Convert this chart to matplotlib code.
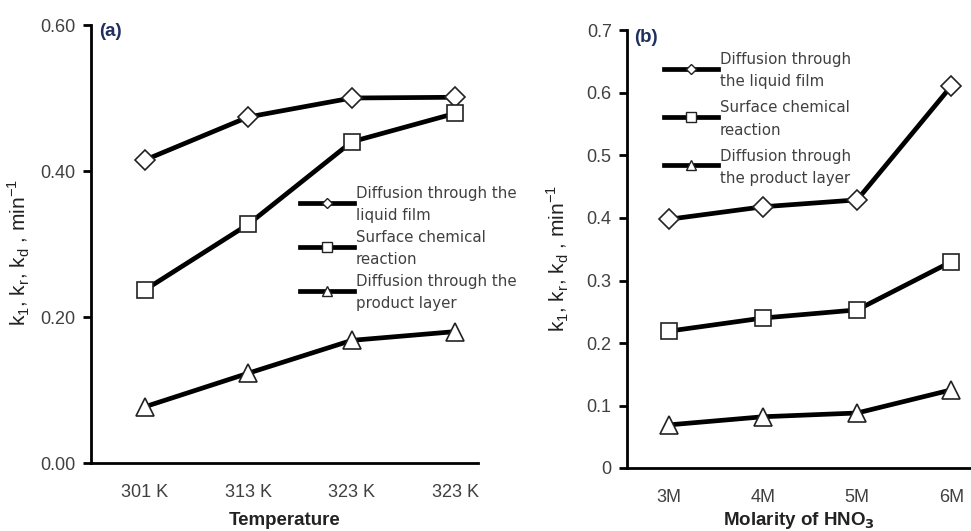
import numpy as np
import matplotlib
matplotlib.use('Agg')
import matplotlib.pyplot as plt
from matplotlib.lines import Line2D
from matplotlib.legend_handler import HandlerLine2D

plt.rcParams['font.family'] = ['Liberation Sans', 'DejaVu Sans']
plt.rcParams['mathtext.fontset'] = 'custom'
plt.rcParams['mathtext.rm'] = 'Liberation Sans'

# panel (a) data
temps = ['301 K', '313 K', '323 K', '323 K']
film_a = [0.415, 0.474, 0.500, 0.501]
chem_a = [0.237, 0.327, 0.440, 0.479]
prod_a = [0.077, 0.123, 0.168, 0.180]

# panel (b) data
molar = ['3M', '4M', '5M', '6M']
film_b = [0.398, 0.418, 0.429, 0.611]
chem_b = [0.219, 0.240, 0.253, 0.330]
prod_b = [0.069, 0.082, 0.088, 0.125]

labels_a = ['Diffusion through the\nliquid film', 'Surface chemical\nreaction',
            'Diffusion through the\nproduct layer']
labels_b = ['Diffusion through\nthe liquid film', 'Surface chemical\nreaction',
            'Diffusion through\nthe product layer']

TXT = '#404040'


class TopHandler(HandlerLine2D):
    # put the legend line next to the first text row instead of the middle
    def create_artists(self, legend, orig_handle, xdescent, ydescent,
                       width, height, fontsize, trans):
        arts = super().create_artists(legend, orig_handle, xdescent, ydescent,
                                      width, height, fontsize, trans)
        for a in arts:
            a.set_ydata(np.asarray(a.get_ydata()) + height / 4)
        return arts


def draw(ax, cats, series, labels, xlim, ylim, yticks, yfmt, xlabel, xpad, tag,
         leg_xy, leg_space):
    x = np.arange(len(cats))
    styles = [('D', 10), ('s', 11), ('^', 12.5)]
    for vals, (m, ms) in zip(series, styles):
        ax.plot(x, vals, color='black', lw=3.4, marker=m, ms=ms,
                mfc='white', mec='#222222', mew=1.2, solid_joinstyle='round')
    ax.set_xlim(*xlim)
    ax.set_ylim(*ylim)
    ax.set_xticks(x)
    ax.set_xticklabels(cats)
    ax.set_yticks(yticks)
    ax.set_yticklabels([yfmt(v) for v in yticks])
    for s in ['top', 'right']:
        ax.spines[s].set_visible(False)
    for s in ['left', 'bottom']:
        ax.spines[s].set_linewidth(2)
    ax.tick_params(axis='x', length=0, pad=15, labelsize=13, labelcolor=TXT)
    ax.tick_params(axis='y', length=6, width=2, direction='out', pad=5,
                   labelsize=13, labelcolor=TXT)
    ax.set_xlabel(xlabel, fontsize=13.5, fontweight='bold', color='#222222', labelpad=xpad)
    ax.set_ylabel(r'k$_\mathrm{1}$, k$_\mathrm{r}$, k$_\mathrm{d}$ , min$^\mathrm{-1}$',
                  fontsize=15, color='#222222')
    ax.text(0.022, 0.985, tag, transform=ax.transAxes, fontsize=13.5,
            fontweight='bold', color='#1f2f5f', va='center', ha='left')

    handles = [Line2D([], [], color='black', lw=3.4, marker=m, ms=ms,
                      mfc='white', mec='#222222', mew=1)
               for m, ms in [('D', 5.5), ('s', 6.5), ('^', 6.5)]]
    leg = ax.legend(handles, labels, loc='upper left', bbox_to_anchor=leg_xy,
                    bbox_transform=ax.figure.transFigure, frameon=False,
                    prop={'family': 'DejaVu Sans', 'size': 10.8}, labelcolor=TXT,
                    handlelength=3.6, handletextpad=0.1, borderpad=0,
                    borderaxespad=0, labelspacing=leg_space,
                    handler_map={Line2D: TopHandler()})
    for t in leg.get_texts():
        t.set_linespacing(1.6)


fig = plt.figure(figsize=(9.71, 5.31), dpi=100)
W, H = 971, 531
ax1 = fig.add_axes([91 / W, (H - 463) / H, (478 - 91) / W, (463 - 25) / H])
ax2 = fig.add_axes([627 / W, (H - 468) / H, (971 - 627) / W, (468 - 30.5) / H])

draw(ax1, temps, [film_a, chem_a, prod_a], labels_a, (-0.52, 3.22), (0, 0.6),
     [0, 0.2, 0.4, 0.6], lambda v: f'{v:.2f}', 'Temperature', 8, '(a)',
     (300 / W, 1 - 186 / H), 0.45)
draw(ax2, molar, [film_b, chem_b, prod_b], labels_b, (-0.447, 3.21), (0, 0.7),
     [0, 0.1, 0.2, 0.3, 0.4, 0.5, 0.6, 0.7],
     lambda v: '0' if v == 0 else f'{v:.1f}', r'Molarity of HNO$_\mathbf{3}$', 3, '(b)',
     (664 / W, 1 - 52 / H), 0.74)

ax1.yaxis.set_label_coords(-0.152, 0.48)
ax2.yaxis.set_label_coords(-0.163, 0.48)

fig.savefig('out.png', dpi=100)
